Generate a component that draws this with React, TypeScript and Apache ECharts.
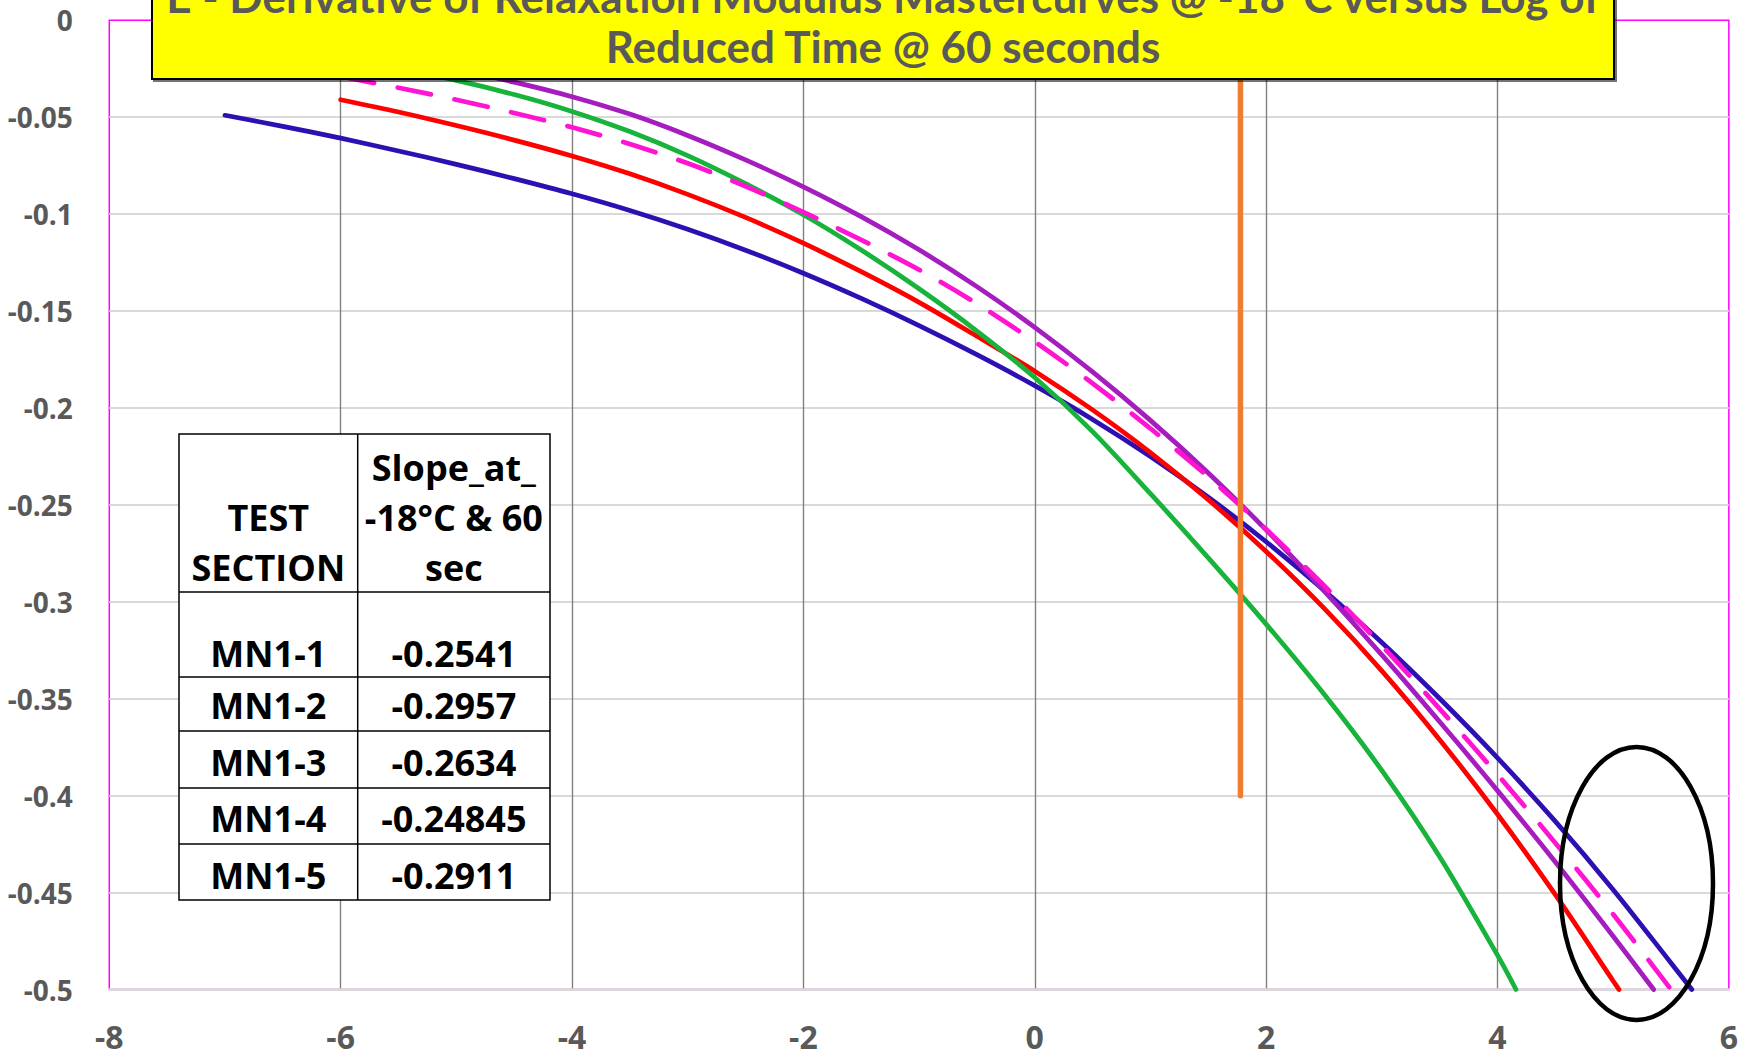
import React, { useEffect, useRef } from "react";
import * as echarts from "echarts";

// ---- data ----
const titleLines = [
  "E - Derivative of Relaxation Modulus Mastercurves @ -18°C versus Log of",
  "Reduced Time @ 60 seconds",
];

const blueCurve = [
  [-7, -0.049], [-6.5, -0.0547], [-6, -0.0608], [-5.5, -0.0674], [-5, -0.0743], [-4.5, -0.0817],
  [-4, -0.0895], [-3.5, -0.0981], [-3, -0.1078], [-2.5, -0.1186], [-2, -0.1305], [-1.5, -0.1435],
  [-1, -0.1575], [-0.5, -0.1725], [0, -0.1885], [0.5, -0.2059], [1, -0.225], [1.5, -0.246],
  [2, -0.269], [2.5, -0.294], [3, -0.321], [3.5, -0.3499], [4, -0.3805], [4.5, -0.4133],
  [5, -0.4485], [5.5, -0.4863], [5.68, -0.5],
];
const redCurve = [
  [-6, -0.041], [-5.5, -0.0473], [-5, -0.0543], [-4.5, -0.0618], [-4, -0.07], [-3.5, -0.0792],
  [-3, -0.0898], [-2.5, -0.1017], [-2, -0.115], [-1.5, -0.1297], [-1, -0.1455], [-0.5, -0.163],
  [0, -0.181], [0.5, -0.201], [1, -0.223], [1.5, -0.2473], [2, -0.274], [2.5, -0.3033],
  [3, -0.3356], [3.5, -0.3711], [4, -0.4096], [4.5, -0.4511], [5, -0.4956], [5.05, -0.5],
];
const greenCurve = [
  [-6, -0.02], [-5.5, -0.025], [-5, -0.031], [-4.5, -0.0383], [-4, -0.047], [-3.5, -0.0574],
  [-3, -0.0698], [-2.5, -0.0843], [-2, -0.1003], [-1.5, -0.1185], [-1, -0.1385], [-0.5, -0.1603],
  [0, -0.1843], [0.5, -0.2122], [1, -0.2442], [1.5, -0.2773], [2, -0.3115], [2.5, -0.3476],
  [3, -0.387], [3.5, -0.4315], [4, -0.4823], [4.16, -0.5],
];
const purpleCurve = [
  [-6, -0.0154], [-5.5, -0.0199], [-5, -0.0254], [-4.5, -0.0319], [-4, -0.0394], [-3.5, -0.0484],
  [-3, -0.0594], [-2.5, -0.072], [-2, -0.0859], [-1.5, -0.1013], [-1, -0.1184], [-0.5, -0.1374],
  [0, -0.1584], [0.5, -0.1814], [1, -0.2064], [1.5, -0.2335], [2, -0.2629], [2.5, -0.2943],
  [3, -0.3274], [3.5, -0.3619], [4, -0.3974], [4.5, -0.4342], [5, -0.4725], [5.35, -0.5],
];
const magentaCurve = [
  [-6, -0.029], [-5.5, -0.0348], [-5, -0.041], [-4.5, -0.0478], [-4, -0.0552], [-3.5, -0.0638],
  [-3, -0.0738], [-2.5, -0.0856], [-2, -0.099], [-1.5, -0.1133], [-1, -0.1287], [-0.5, -0.1462],
  [0, -0.1658], [0.5, -0.1873], [1, -0.2106], [1.5, -0.2356], [2, -0.2626], [2.5, -0.2916],
  [3, -0.3226], [3.5, -0.3552], [4, -0.3891], [4.5, -0.4244], [5, -0.4612], [5.5, -0.5],
];
const refLine = [
  [1.778, 0],
  [1.778, -0.4],
];

const tableHeader1 = ["TEST", "SECTION"];
const tableHeader2 = ["Slope_at_", "-18°C & 60", "sec"];
const testSections = ["MN1-1", "MN1-2", "MN1-3", "MN1-4", "MN1-5"];
const slopeValues = ["-0.2541", "-0.2957", "-0.2634", "-0.24845", "-0.2911"];

// ---- layout ----
const W = 1741;
const H = 1059;
const GRID = { left: 109.3, right: 11, top: 20.3, bottom: 69.5 };
const TBL = { x0: 179, x1: 357.7, x2: 550, y0: 434, rowLines: [592, 677, 731, 788, 844], y1: 900 };
const TBL_FS = 36;
const headerBaselines = [480, 530, 580];
const rowBaselines = [666.7, 718.3, 775, 831.7, 888.3];
const TITLE_FS = 44;

function buildGraphic() {
  const els: any[] = [];
  els.push({
    type: "rect",
    z: 100,
    shape: { x: 152, y: -60, width: 1462, height: 139 },
    style: {
      fill: "#FFFF00",
      stroke: "#000",
      lineWidth: 2,
      shadowColor: "rgba(0,0,0,0.55)",
      shadowOffsetX: 2,
      shadowOffsetY: 2,
      shadowBlur: 1,
    },
  });
  const titleBaselines = [11.7, 61.7];
  titleLines.forEach((t, i) => {
    els.push({
      type: "text",
      z: 101,
      x: 883,
      y: titleBaselines[i] - TITLE_FS * 0.36,
      style: {
        text: t,
        fill: "#595959",
        font: `bold ${TITLE_FS}px Lato`,
        align: "center",
        verticalAlign: "middle",
      },
    });
  });

  els.push({
    type: "rect",
    z: 100,
    shape: { x: TBL.x0, y: TBL.y0, width: TBL.x2 - TBL.x0, height: TBL.y1 - TBL.y0 },
    style: { fill: "#fff", stroke: "#000", lineWidth: 1.5 },
  });
  els.push({
    type: "line",
    z: 101,
    shape: { x1: TBL.x1, y1: TBL.y0, x2: TBL.x1, y2: TBL.y1 },
    style: { stroke: "#000", lineWidth: 1.5 },
  });
  TBL.rowLines.forEach((y) => {
    els.push({
      type: "line",
      z: 101,
      shape: { x1: TBL.x0, y1: y, x2: TBL.x2, y2: y },
      style: { stroke: "#000", lineWidth: 1.5 },
    });
  });
  const c1 = (TBL.x0 + TBL.x1) / 2;
  const c2 = (TBL.x1 + TBL.x2) / 2;
  const addText = (t: string, cx: number, baseline: number) => {
    els.push({
      type: "text",
      z: 102,
      x: cx,
      y: baseline - TBL_FS * 0.36,
      style: {
        text: t,
        fill: "#000",
        font: `bold ${TBL_FS}px "Open Sans"`,
        align: "center",
        verticalAlign: "middle",
      },
    });
  };
  tableHeader1.forEach((t, i) => addText(t, c1, headerBaselines[i + 1]));
  tableHeader2.forEach((t, i) => addText(t, c2, headerBaselines[i]));
  testSections.forEach((t, i) => addText(t, c1, rowBaselines[i]));
  slopeValues.forEach((t, i) => addText(t, c2, rowBaselines[i]));

  els.push({
    type: "ellipse",
    z: 110,
    shape: { cx: 1636.5, cy: 883.4, rx: 76.5, ry: 136.5 },
    style: { fill: "none", stroke: "#000", lineWidth: 4.5 },
  });
  return els;
}

function lineSeries(name: string, data: number[][], color: string, dashed = false) {
  return {
    type: "line",
    name,
    data,
    smooth: 0.3,
    showSymbol: false,
    symbol: "none",
    lineStyle: {
      color,
      width: 4.75,
      cap: "round",
      type: dashed ? [34, 24] : "solid",
    },
  };
}

export default function App() {
  const ref = useRef<HTMLDivElement>(null);
  useEffect(() => {
    const chart = echarts.init(ref.current!, null, { renderer: "svg" });
    const option: any = {
      animation: false,
      backgroundColor: "#fff",
      grid: {
        ...GRID,
        show: true,
        borderColor: "#FF00FF",
        borderWidth: 1.5,
        backgroundColor: "transparent",
        containLabel: false,
      },
      xAxis: {
        type: "value",
        min: -8,
        max: 6,
        interval: 2,
        axisLine: { show: true, onZero: false, lineStyle: { color: "#d9d9d9", width: 2.5 } },
        axisTick: { show: false },
        axisLabel: {
          margin: 31,
          color: "#595959",
          fontFamily: "Open Sans",
          fontWeight: "bold",
          fontSize: 32,
          lineHeight: 32,
        },
        splitLine: {
          show: true,
          showMinLine: false,
          showMaxLine: false,
          lineStyle: { color: "#808080", width: 1.4 },
        },
      },
      yAxis: {
        type: "value",
        min: -0.5,
        max: 0,
        interval: 0.05,
        axisLine: { show: false, onZero: false },
        axisTick: { show: false },
        axisLabel: {
          margin: 36.6,
          color: "#595959",
          fontFamily: "Open Sans",
          fontWeight: "bold",
          fontSize: 28,
        },
        splitLine: {
          show: true,
          showMaxLine: false,
          lineStyle: { color: "#d9d9d9", width: 2 },
        },
      },
      series: [
        lineSeries("MN1-1", blueCurve, "#2E10B2"),
        lineSeries("MN1-3", redCurve, "#FF0000"),
        lineSeries("MN1-2", greenCurve, "#17B33A"),
        lineSeries("MN1-4", purpleCurve, "#A51DBF"),
        lineSeries("MN1-5", magentaCurve, "#FF14D2", true),
        {
          type: "line",
          name: "log(60 s)",
          data: refLine,
          showSymbol: false,
          symbol: "none",
          lineStyle: { color: "#ED7D31", width: 5.5, cap: "round" },
        },
      ],
      graphic: buildGraphic(),
    };
    chart.setOption(option);
    return () => chart.dispose();
  }, []);
  return (
    <div
      ref={ref}
      style={{ position: "fixed", left: 0, top: 0, width: W, height: H, background: "#fff" }}
    />
  );
}
